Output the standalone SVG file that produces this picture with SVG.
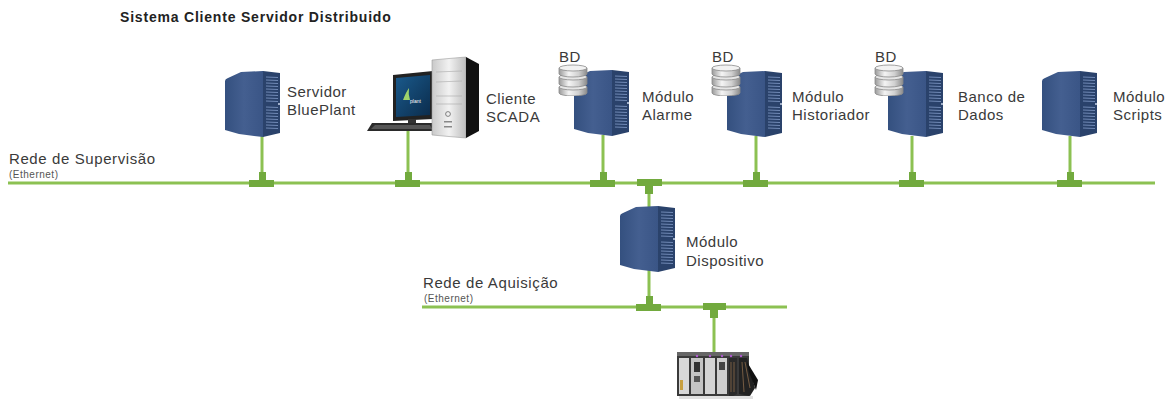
<svg xmlns="http://www.w3.org/2000/svg" width="1172" height="401" viewBox="0 0 1172 401">
  <style>
    .title { font-family: "Liberation Sans", Arial, sans-serif; font-size: 14px; font-weight: bold; letter-spacing: 0.8px; fill: #222; }
    .lbl { font-family: "Liberation Sans", Arial, sans-serif; font-size: 15px; letter-spacing: 0.5px; fill: #3a3a3a; }
    .net { font-family: "Liberation Sans", Arial, sans-serif; font-size: 15px; letter-spacing: 0.6px; fill: #3a3a3a; }
    .small { font-family: "Liberation Sans", Arial, sans-serif; font-size: 10px; letter-spacing: 0.5px; fill: #555; }
    .wire { stroke: #8cc152; stroke-width: 3; fill: none; }
    .tee { fill: #72aa3e; }
  </style>
  <defs>
    <linearGradient id="sideGrad" x1="0" y1="0" x2="1" y2="0">
      <stop offset="0" stop-color="#34507f"/>
      <stop offset="0.5" stop-color="#445f90"/>
      <stop offset="1" stop-color="#3a5586"/>
    </linearGradient>
    <linearGradient id="diskGrad" x1="0" y1="0" x2="1" y2="0">
      <stop offset="0" stop-color="#9a9a9a"/>
      <stop offset="0.35" stop-color="#f4f4f4"/>
      <stop offset="0.7" stop-color="#d0d0d0"/>
      <stop offset="1" stop-color="#8c8c8c"/>
    </linearGradient>
    <linearGradient id="screenGrad" x1="0" y1="0" x2="1" y2="1">
      <stop offset="0" stop-color="#1a5a8c"/>
      <stop offset="1" stop-color="#0b2c4c"/>
    </linearGradient>
    <linearGradient id="towerGrad" x1="0" y1="0" x2="1" y2="0">
      <stop offset="0" stop-color="#c9c9c9"/>
      <stop offset="0.5" stop-color="#f2f2f2"/>
      <stop offset="1" stop-color="#bdbdbd"/>
    </linearGradient>

    <!-- tower server, 56 x 66 -->
    <symbol id="server" viewBox="0 0 56 66" width="56" height="66">
      <path d="M0,10 Q0,8 3,7 L16,1 L38,0 L38,66 L14,63 L0,59 Z" fill="url(#sideGrad)"/>
      <path d="M38,0 L55,2 L55,62 L38,66 Z" fill="#2a426b"/>
      <g stroke="#7089b5" stroke-width="1">
        <line x1="41" y1="6" x2="53" y2="6.5"/>
        <line x1="41" y1="9" x2="53" y2="9.5"/>
        <line x1="41" y1="12" x2="53" y2="12.5"/>
        <line x1="41" y1="15" x2="53" y2="15.5"/>
        <line x1="41" y1="18" x2="53" y2="18.5"/>
        <line x1="41" y1="21" x2="53" y2="21.5"/>
        <line x1="41" y1="24" x2="53" y2="24.5"/>
        <line x1="41" y1="27" x2="53" y2="27.5"/>
        <line x1="41" y1="30" x2="53" y2="30.5"/>
        <line x1="41" y1="36" x2="53" y2="36.5"/>
        <line x1="41" y1="39" x2="53" y2="39.5"/>
        <line x1="41" y1="42" x2="53" y2="42.5"/>
        <line x1="41" y1="45" x2="53" y2="45.5"/>
        <line x1="41" y1="48" x2="53" y2="48.5"/>
        <line x1="41" y1="51" x2="53" y2="51.5"/>
        <line x1="41" y1="54" x2="53" y2="54.5"/>
        <line x1="41" y1="57" x2="53" y2="57.5"/>
      </g>
      <circle cx="54" cy="33" r="1" fill="#c8d4ea"/>
    </symbol>

    <!-- database stack, 30 x 32 -->
    <symbol id="db" viewBox="0 0 30 32" width="30" height="32">
      <g stroke="#8a8a8a" stroke-width="0.8">
        <path d="M1,23 L1,29 A14,3 0 0 0 29,29 L29,23 Z" fill="url(#diskGrad)"/>
        <ellipse cx="15" cy="23" rx="14" ry="3" fill="#e6e6e6"/>
        <path d="M1,13 L1,20 A14,3 0 0 0 29,20 L29,13 Z" fill="url(#diskGrad)"/>
        <ellipse cx="15" cy="13" rx="14" ry="3" fill="#e6e6e6"/>
        <path d="M1,4 L1,10 A14,3 0 0 0 29,10 L29,4 Z" fill="url(#diskGrad)"/>
        <ellipse cx="15" cy="4" rx="14" ry="3" fill="#f2f2f2"/>
      </g>
    </symbol>
  </defs>

  <rect width="1172" height="401" fill="#ffffff"/>

  <text class="title" x="120" y="22">Sistema Cliente Servidor Distribuido</text>

  <!-- network buses and drops -->
  <g id="connectors">
    <line class="wire" x1="8" y1="183" x2="1155" y2="183"/>
    <line class="wire" x1="422" y1="307" x2="787" y2="307"/>

    <!-- drops to the supervision bus -->
    <line class="wire" x1="262" y1="136" x2="262" y2="183"/>
    <line class="wire" x1="408" y1="131" x2="408" y2="183"/>
    <line class="wire" x1="603" y1="135" x2="603" y2="183"/>
    <line class="wire" x1="756" y1="136" x2="756" y2="183"/>
    <line class="wire" x1="912" y1="136" x2="912" y2="183"/>
    <line class="wire" x1="1070" y1="136" x2="1070" y2="183"/>
    <line class="wire" x1="649" y1="183" x2="649" y2="208"/>
    <!-- drops to the acquisition bus -->
    <line class="wire" x1="649" y1="270" x2="649" y2="307"/>
    <line class="wire" x1="714" y1="307" x2="714" y2="352"/>

    <!-- tee joints -->
    <path class="tee" d="M259,172 h7 v8 h8 v7 h-25 v-7 h10 z"/>
    <path class="tee" d="M405,172 h7 v8 h8 v7 h-25 v-7 h10 z"/>
    <path class="tee" d="M600,172 h7 v8 h8 v7 h-25 v-7 h10 z"/>
    <path class="tee" d="M753,172 h7 v8 h8 v7 h-25 v-7 h10 z"/>
    <path class="tee" d="M909,172 h7 v8 h8 v7 h-25 v-7 h10 z"/>
    <path class="tee" d="M1067,172 h7 v8 h8 v7 h-25 v-7 h10 z"/>
    <path class="tee" d="M637,179 h25 v7 h-9 v8 h-8 v-8 h-8 z"/>
    <path class="tee" d="M646,296 h7 v8 h8 v7 h-25 v-7 h10 z"/>
    <path class="tee" d="M703,303 h23 v7 h-8 v8 h-8 v-8 h-7 z"/>
  </g>

  <!-- bus labels -->
  <text class="net" x="9" y="164">Rede de Supervisão</text>
  <text class="small" x="9" y="178">(Ethernet)</text>
  <text class="net" x="423" y="288">Rede de Aquisição</text>
  <text class="small" x="424" y="302">(Ethernet)</text>

  <g id="servidor-blueplant">
    <use href="#server" x="225" y="71"/>
    <text class="lbl" x="287" y="97">Servidor</text>
    <text class="lbl" x="287" y="115">BluePlant</text>
  </g>

  <g id="cliente-scada">
    <!-- monitor -->
    <path d="M393,75 L433,71 L433,119 L393,121 Z" fill="#222"/>
    <path d="M396,78 L430,75 L430,115 L396,117 Z" fill="url(#screenGrad)"/>
    <path d="M403,100 q3,-8 6,-12 q-1,6 1,12 z" fill="#9fd36a"/>
    <text x="410" y="103" font-family="Liberation Sans, Arial, sans-serif" font-size="5" fill="#ffffff">plant</text>
    <rect x="408" y="119" width="8" height="5" fill="#333"/>
    <!-- keyboard -->
    <path d="M372,123 L433,123 L436,131 L367,131 Z" fill="#2a2a2a"/>
    <path d="M375,125 L430,125 L432,129 L371,129 Z" fill="#555"/>
    <!-- tower -->
    <path d="M432,60 L466,57 L466,138 L432,135 Z" fill="url(#towerGrad)" stroke="#9a9a9a" stroke-width="0.6"/>
    <path d="M466,57 L479,64 L479,131 L466,138 Z" fill="#111"/>
    <g stroke="#aaaaaa" stroke-width="0.6">
      <line x1="436" y1="72" x2="462" y2="71"/>
      <line x1="436" y1="82" x2="462" y2="81"/>
      <line x1="436" y1="96" x2="462" y2="96"/>
      <line x1="436" y1="104" x2="462" y2="104"/>
    </g>
    <circle cx="448" cy="114" r="2.4" fill="none" stroke="#666" stroke-width="0.8"/>
    <rect x="444" y="121" width="8" height="1.5" fill="#888"/>
    <rect x="444" y="126" width="8" height="1.5" fill="#888"/>
    <text class="lbl" x="486" y="104">Cliente</text>
    <text class="lbl" x="486" y="122">SCADA</text>
  </g>

  <g id="modulo-alarme">
    <use href="#server" x="574" y="70"/>
    <text class="lbl" x="559" y="62">BD</text>
    <use href="#db" x="558" y="64"/>
    <text class="lbl" x="642" y="102">Módulo</text>
    <text class="lbl" x="642" y="120">Alarme</text>
  </g>

  <g id="modulo-historiador">
    <use href="#server" x="727" y="71"/>
    <text class="lbl" x="712" y="62">BD</text>
    <use href="#db" x="711" y="64"/>
    <text class="lbl" x="792" y="102">Módulo</text>
    <text class="lbl" x="792" y="120">Historiador</text>
  </g>

  <g id="banco-de-dados">
    <use href="#server" x="888" y="71"/>
    <text class="lbl" x="875" y="62">BD</text>
    <use href="#db" x="874" y="64"/>
    <text class="lbl" x="958" y="102">Banco de</text>
    <text class="lbl" x="958" y="120">Dados</text>
  </g>

  <g id="modulo-scripts">
    <use href="#server" x="1042" y="71"/>
    <text class="lbl" x="1113" y="102">Módulo</text>
    <text class="lbl" x="1113" y="120">Scripts</text>
  </g>

  <g id="modulo-dispositivo">
    <use href="#server" x="620" y="206"/>
    <text class="lbl" x="686" y="247">Módulo</text>
    <text class="lbl" x="686" y="266">Dispositivo</text>
  </g>

  <g id="clp">
    <!-- rack -->
    <rect x="677" y="354" width="72" height="42" fill="#3a3a3a"/>
    <rect x="677" y="352" width="72" height="4" fill="#666"/>
    <!-- modules -->
    <rect x="679" y="358" width="10" height="36" fill="#d8d8d8"/>
    <rect x="680" y="380" width="3" height="10" fill="#c8a040"/>
    <rect x="691" y="358" width="12" height="36" fill="#c4c4c4"/>
    <rect x="694" y="362" width="6" height="10" fill="#333"/>
    <rect x="694" y="376" width="6" height="6" fill="#555"/>
    <rect x="705" y="358" width="10" height="36" fill="#d4d4d4"/>
    <rect x="717" y="358" width="10" height="36" fill="#cfcfcf"/>
    <rect x="719" y="362" width="6" height="8" fill="#444"/>
    <circle cx="697" cy="356" r="1.2" fill="#b05ad0"/>
    <circle cx="710" cy="356" r="1.2" fill="#b05ad0"/>
    <circle cx="722" cy="356" r="1.2" fill="#b05ad0"/>
    <circle cx="731" cy="356" r="1.2" fill="#b05ad0"/>
    <circle cx="741" cy="356" r="1.2" fill="#b05ad0"/>
    <!-- terminal blocks and cables -->
    <path d="M729,358 L737,358 L737,394 L729,398 Z" fill="#2a2a2a"/>
    <path d="M739,358 L747,358 L755,388 L750,396 L739,394 Z" fill="#222"/>
    <path d="M747,362 L758,380 L756,390 L749,372 Z" fill="#111"/>
    <g stroke="#8a6a4a" stroke-width="0.8">
      <line x1="731" y1="362" x2="731" y2="392"/>
      <line x1="734" y1="362" x2="734" y2="392"/>
      <line x1="742" y1="362" x2="744" y2="392"/>
      <line x1="745" y1="362" x2="750" y2="388"/>
    </g>
    <rect x="679" y="396" width="74" height="3" fill="#e0e0e0"/>
  </g>
</svg>
